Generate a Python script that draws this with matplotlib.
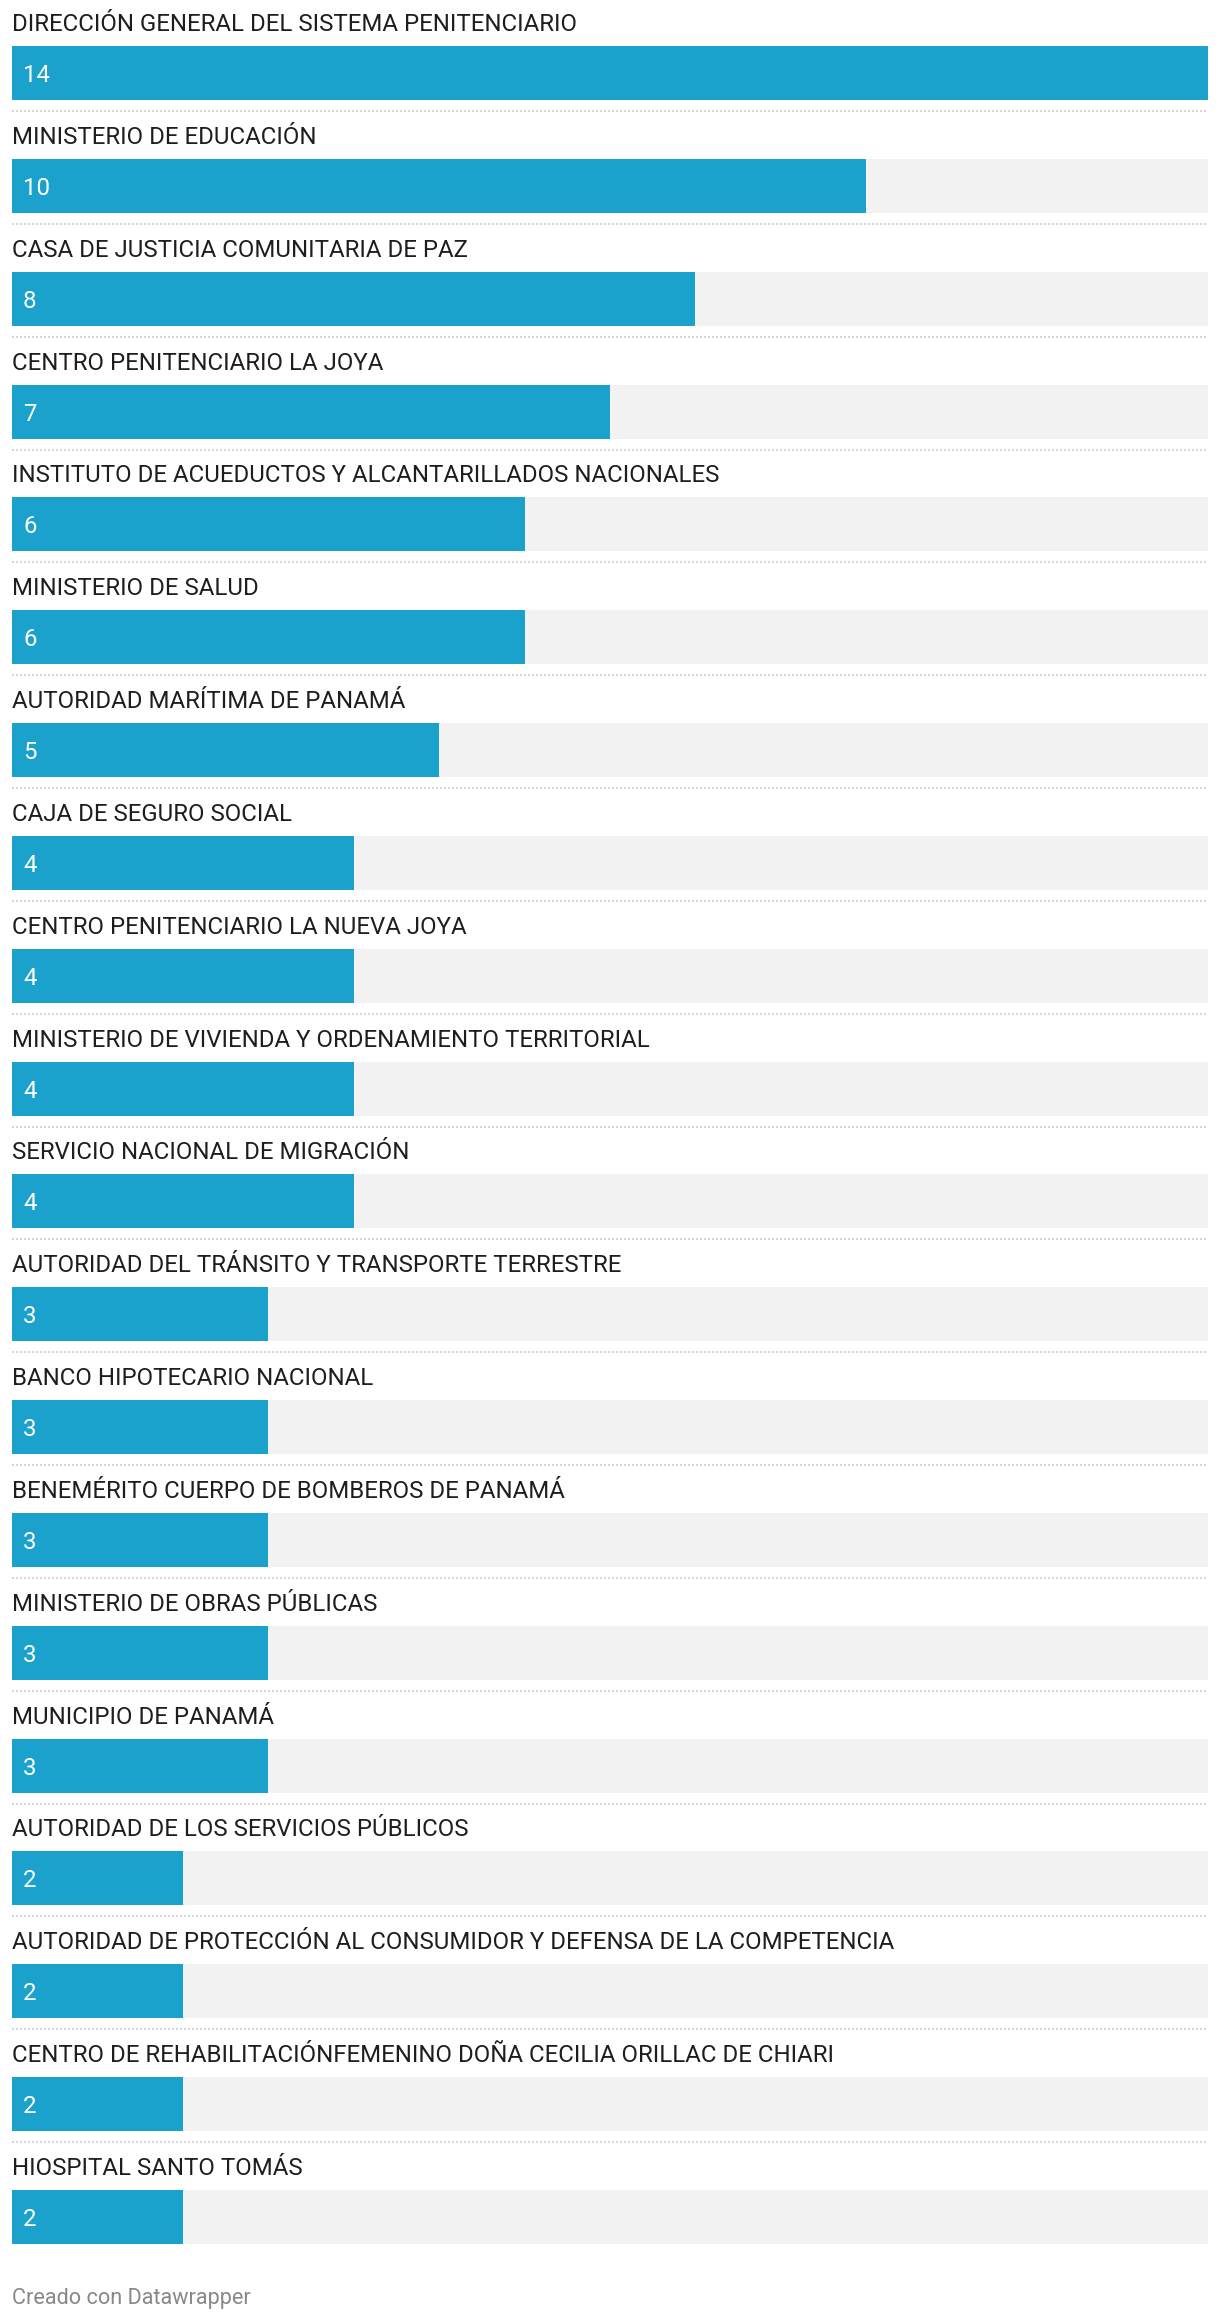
import matplotlib
matplotlib.use("Agg")
import matplotlib.pyplot as plt

categories = [
    "DIRECCIÓN GENERAL DEL SISTEMA PENITENCIARIO",
    "MINISTERIO DE EDUCACIÓN",
    "CASA DE JUSTICIA COMUNITARIA DE PAZ",
    "CENTRO PENITENCIARIO LA JOYA",
    "INSTITUTO DE ACUEDUCTOS Y ALCANTARILLADOS NACIONALES",
    "MINISTERIO DE SALUD",
    "AUTORIDAD MARÍTIMA DE PANAMÁ",
    "CAJA DE SEGURO SOCIAL",
    "CENTRO PENITENCIARIO LA NUEVA JOYA",
    "MINISTERIO DE VIVIENDA Y ORDENAMIENTO TERRITORIAL",
    "SERVICIO NACIONAL DE MIGRACIÓN",
    "AUTORIDAD DEL TRÁNSITO Y TRANSPORTE TERRESTRE",
    "BANCO HIPOTECARIO NACIONAL",
    "BENEMÉRITO CUERPO DE BOMBEROS DE PANAMÁ",
    "MINISTERIO DE OBRAS PÚBLICAS",
    "MUNICIPIO DE PANAMÁ",
    "AUTORIDAD DE LOS SERVICIOS PÚBLICOS",
    "AUTORIDAD DE PROTECCIÓN AL CONSUMIDOR Y DEFENSA DE LA COMPETENCIA",
    "CENTRO DE REHABILITACIÓNFEMENINO DOÑA CECILIA ORILLAC DE CHIARI",
    "HIOSPITAL SANTO TOMÁS",
]
values = [14, 10, 8, 7, 6, 6, 5, 4, 4, 4, 4, 3, 3, 3, 3, 3, 2, 2, 2, 2]
footer = "Creado con Datawrapper"

W, H, DPI = 1220, 2320, 100
BAR_COLOR = "#1aa1cc"
BG_COLOR = "#f2f2f2"
TEXT_COLOR = "#1e1e1e"
DOT_COLOR = "#d6d6d6"

pitch = 112.84      # px per row
center0 = 73.0      # px, centre of first bar
bar_h = 54.0 / pitch
left_px, right_px = 12, 1208

fig = plt.figure(figsize=(W / DPI, H / DPI), dpi=DPI)
ax = fig.add_axes([left_px / W, 0, (right_px - left_px) / W, 1])
vmax = max(values)
ax.set_xlim(0, vmax)
ax.set_ylim((H - center0) / pitch, -center0 / pitch)
ax.axis("off")

n = len(values)
rows = list(range(n))
ax.barh(rows, [vmax] * n, height=bar_h, color=BG_COLOR, linewidth=0)
ax.barh(rows, values, height=bar_h, color=BAR_COLOR, linewidth=0)

font = ["Roboto", "DejaVu Sans"]
lbl_off = 42.0 / pitch
dot_off = 38.0 / pitch
for i, (c, v) in enumerate(zip(categories, values)):
    ax.text(0, i - lbl_off, c, ha="left", va="baseline", fontsize=17.3,
            color=TEXT_COLOR, family=font)
    ax.annotate(str(v), (0, i), xytext=(8, 0), textcoords="offset points",
                ha="left", va="center_baseline", fontsize=17.3, color="white",
                family=font)
    if i < n - 1:
        ax.plot([0, vmax], [i + dot_off, i + dot_off], color=DOT_COLOR,
                linewidth=1.44, linestyle=(0, (1, 1)), dash_capstyle="butt",
                solid_capstyle="butt")

fig.text(left_px / W, 1 - 2304 / H, footer, ha="left", va="baseline",
         fontsize=15.6, color="#888888", family=font)

fig.savefig("out.png", dpi=DPI, facecolor="white")
